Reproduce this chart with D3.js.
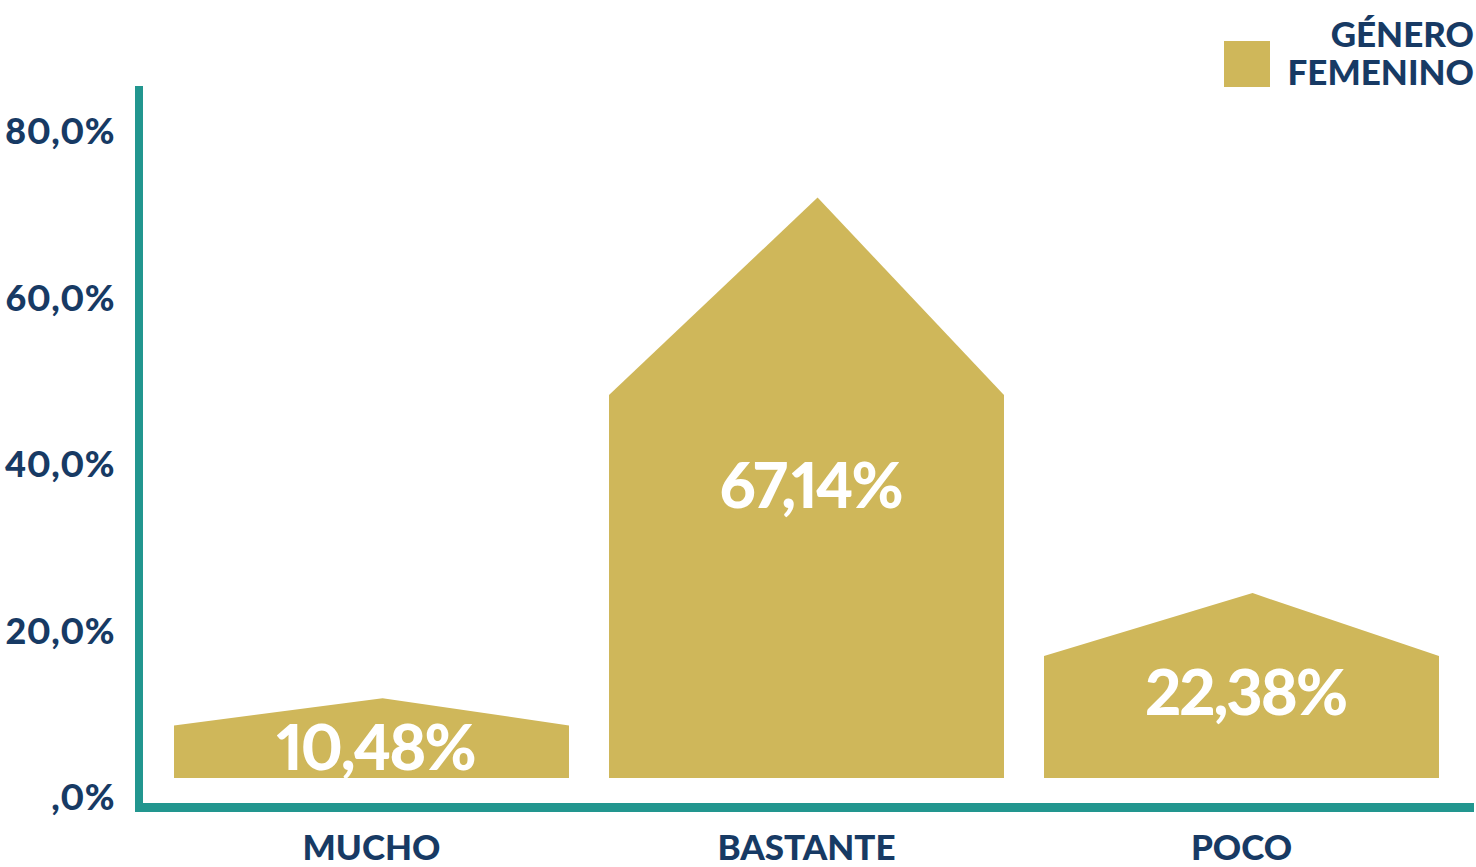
<!DOCTYPE html>
<html>
<head>
<meta charset="utf-8">
<script src="https://cdn.jsdelivr.net/npm/d3@7"></script>
<style>
  html, body { margin: 0; padding: 0; background: #ffffff; }
  svg { display: block; }
  text { font-family: Lato, "Open Sans", sans-serif; font-weight: 900; font-variant-numeric: proportional-nums; }
</style>
</head>
<body>
<svg id="chart" width="1476" height="867"></svg>
<script>
// ---- Data ----
const categories = ["MUCHO", "BASTANTE", "POCO"];
const values = [10.48, 67.14, 22.38];
const valueLabels = ["10,48%", "67,14%", "22,38%"];
const tickValues = [0, 20, 40, 60, 80];
const tickLabels = [",0%", "20,0%", "40,0%", "60,0%", "80,0%"];
const legendLines = ["GÉNERO", "FEMENINO"];

// ---- Styles ----
const GOLD = "#cfb75a";
const TEAL = "#22968f";
const NAVY = "#173a64";

const svg = d3.select("#chart");

// ---- Scales ----
const x = d3.scaleBand()
  .domain(categories)
  .range([154, 1459])
  .paddingInner(0.092)
  .paddingOuter(0.046);

const yAxisScale = d3.scaleLinear().domain([0, 80]).range([798, 132]);
// pictogram height scale (house-shaped marks)
const base = 778;
const yShape = d3.scaleLinear().domain([0, 80]).range([790.9, 83.9]);

// ---- Marks ----
const shapes = svg.append("g");
categories.forEach((c, i) => {
  const v = values[i];
  const x0 = x(c), x1 = x(c) + x.bandwidth();
  const peak = Math.min(base, yShape(v));
  const h = base - peak;
  const shoulder = base - 0.66 * h;
  const px = x0 + 0.528 * x.bandwidth();
  const path = d3.path();
  path.moveTo(x0, base);
  path.lineTo(x0, shoulder);
  path.lineTo(px, peak);
  path.lineTo(x1, shoulder);
  path.lineTo(x1, base);
  path.closePath();
  shapes.append("path").attr("d", path.toString()).attr("fill", GOLD);

  shapes.append("text")
    .attr("x", x0 + x.bandwidth() / 2 + 4)
    .attr("y", base + 10.8 - 0.522 * h)
    .attr("dy", "0.36em")
    .attr("text-anchor", "middle")
    .attr("fill", "#ffffff")
    .style("font-size", "63px")
    .style("letter-spacing", "-2px")
    .text(valueLabels[i]);
});

// ---- Y axis labels ----
const yAxis = d3.axisLeft(yAxisScale)
  .tickValues(tickValues)
  .tickFormat((d, i) => tickLabels[i])
  .tickSize(0)
  .tickPadding(21);
const gy = svg.append("g").attr("transform", "translate(136,0)").call(yAxis);
gy.select(".domain").remove();
gy.selectAll("text")
  .attr("fill", NAVY)
  .style("font-family", "Lato, sans-serif")
  .style("font-weight", "900")
  .style("font-size", "36px")
  .style("letter-spacing", "0.5px");

// ---- X axis labels ----
const xAxis = d3.axisBottom(x).tickSize(0).tickPadding(0);
const gx = svg.append("g").attr("transform", "translate(0,860)").call(xAxis);
gx.select(".domain").remove();
gx.selectAll("text")
  .attr("dy", "0")
  .attr("y", 0)
  .attr("fill", NAVY)
  .style("font-family", "Lato, sans-serif")
  .style("font-weight", "900")
  .style("font-size", "35px");

// ---- Axis lines ----
svg.append("line")
  .attr("x1", 139).attr("x2", 139).attr("y1", 86).attr("y2", 812)
  .attr("stroke", TEAL).attr("stroke-width", 8);
svg.append("line")
  .attr("x1", 135).attr("x2", 1474).attr("y1", 807.5).attr("y2", 807.5)
  .attr("stroke", TEAL).attr("stroke-width", 9);

// ---- Legend ----
const lg = svg.append("g");
lg.append("rect").attr("x", 1224).attr("y", 41).attr("width", 46).attr("height", 46).attr("fill", GOLD);
legendLines.forEach((t, i) => {
  lg.append("text")
    .attr("x", 1474)
    .attr("y", 47 + i * 38)
    .attr("text-anchor", "end")
    .attr("fill", NAVY)
    .style("font-size", "35px")
    .text(t);
});
</script>
</body>
</html>
